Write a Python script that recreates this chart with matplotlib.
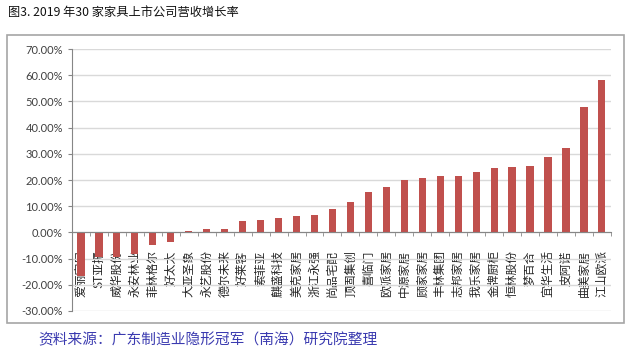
import numpy as np
import matplotlib
matplotlib.use('Agg')
import matplotlib.pyplot as plt
import matplotlib.ticker as mtick
from matplotlib.patches import Rectangle

plt.rcParams['font.family'] = ['Noto Sans CJK SC', 'DejaVu Sans']

# 数据
empresas = ['爱丽家居', 'ST亚振', '威华股份', '永安林业', '菲林格尔', '好太太',
            '大亚圣象', '永艺股份', '德尔未来', '好莱客', '索菲亚', '麒盛科技',
            '美克家居', '浙江永强', '尚品宅配', '顶固集创', '喜临门', '欧派家居',
            '中源家居', '顾家家居', '丰林集团', '志邦家居', '我乐家居', '金牌厨柜',
            '恒林股份', '梦百合', '宜华生活', '皮阿诺', '曲美家居', '江山欧派']
crescimento = [-16.5, -9.4, -9.2, -8.3, -4.7, -3.7,
               0.4, 1.4, 1.4, 4.2, 4.9, 5.6,
               6.1, 6.5, 9.1, 11.6, 15.5, 17.4,
               20.1, 20.8, 21.5, 21.5, 22.9, 24.6,
               24.9, 25.4, 28.9, 32.3, 47.8, 58.0]
yticks = [-30, -20, -10, 0, 10, 20, 30, 40, 50, 60, 70]

titulo = '图3. 2019 年30 家家具上市公司营收增长率'
fonte = '资料来源：广东制造业隐形冠军（南海）研究院整理'

fig = plt.figure(figsize=(6.41, 3.53), dpi=100)

# moldura externa
fig.patches.append(Rectangle((0.011, 0.085), 0.962, 0.816, transform=fig.transFigure,
                             fill=False, edgecolor='#a6a6a6', linewidth=1.2))

ax = fig.add_axes([0.1123, 0.119, 0.8407, 0.742])

x = np.arange(len(empresas))
ax.bar(x, crescimento, width=0.4, color='#c0504d', zorder=3)

ax.set_xlim(-0.5, len(empresas) - 0.5)
ax.set_ylim(-30, 70)
ax.set_yticks(yticks)
ax.yaxis.set_major_formatter(mtick.FuncFormatter(lambda v, p: f'{v:.2f}%'))
ax.grid(axis='y', color='#d9d9d9', linewidth=1, zorder=0)

for s in ['top', 'right']:
    ax.spines[s].set_visible(False)
ax.spines['left'].set_color('#868686')
ax.spines['bottom'].set_color('#868686')
ax.spines['bottom'].set_position(('data', 0))
ax.spines['bottom'].set_zorder(4)

ax.tick_params(axis='y', length=3, color='#868686', labelcolor='#404040', labelsize=8)
for lab in ax.get_yticklabels():
    lab.set_fontfamily('Lato')

ax.set_xticks(x)
ax.set_xticklabels(empresas, rotation=90, fontsize=8.5, color='#262626')
ax.set_xticks(np.arange(-0.5, len(empresas)), minor=True)
ax.tick_params(axis='x', which='major', length=0, pad=13)
ax.tick_params(axis='x', which='minor', length=3, color='#868686')

fig.text(0.012, 0.965, titulo, fontsize=8.8, color='#111111', va='center', ha='left',
         fontweight='medium')
fig.text(0.059, 0.037, fonte, fontsize=10.6, color='#3b3bb0', va='center', ha='left')

plt.savefig('out.png', dpi=100)
plt.close()
